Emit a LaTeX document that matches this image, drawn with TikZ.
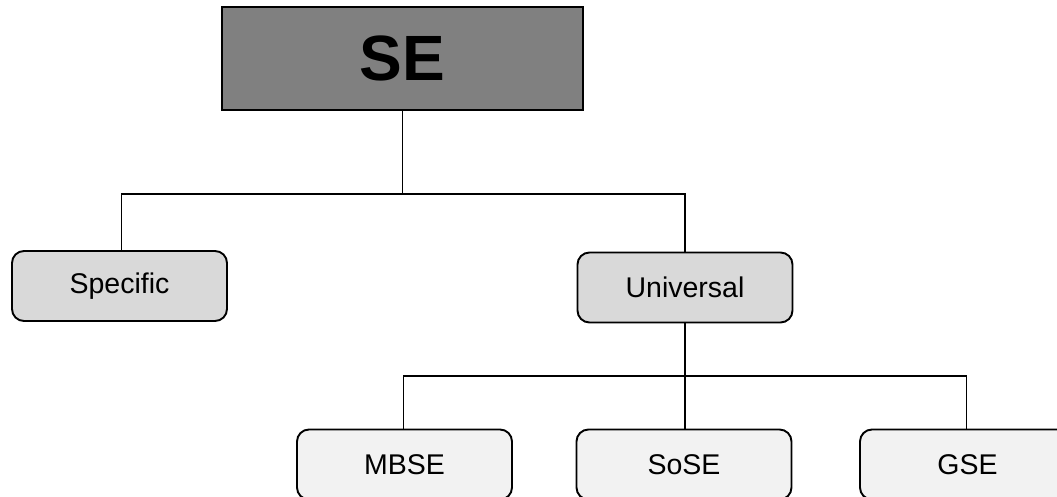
\documentclass[tikz,border=0pt]{standalone}
\usepackage{fontspec}
\setmainfont{Liberation Sans}
\begin{document}
\begin{tikzpicture}[x=1pt,y=-1pt,
  conn/.style={draw=black,line width=1.9pt},
  topbox/.style={draw=black,line width=2.2pt,fill=topgray,minimum width=361pt,minimum height=103pt,inner sep=0pt,font=\fontsize{64}{64}\selectfont\bfseries},
  midbox/.style={draw=black,line width=1.9pt,fill=midgray,rounded corners=12pt,minimum width=215pt,minimum height=70pt,inner sep=0pt,font=\fontsize{28.5}{28.5}\selectfont},
  lowbox/.style={draw=black,line width=1.9pt,fill=lowgray,rounded corners=12pt,minimum width=215pt,minimum height=70pt,inner sep=0pt,font=\fontsize{28.5}{28.5}\selectfont}]
\definecolor{topgray}{HTML}{808080}
\definecolor{midgray}{HTML}{D9D9D9}
\definecolor{lowgray}{HTML}{F2F2F2}
\useasboundingbox (0,0) rectangle (1057,497);
\clip (0,0) rectangle (1057,497);
\node[topbox] (se) at (402.5,58.5) {SE};
\node[midbox] (spec) at (119.5,286) {Specific};
\node[midbox] (univ) at (685,287.5) {Universal};
\node[lowbox] (mbse) at (404.5,464.5) {MBSE};
\node[lowbox] (sose) at (684,464.5) {SoSE};
\node[lowbox] (gse) at (967.5,464.5) {GSE};
\coordinate (j1) at (402.5,194);
\coordinate (j2) at (685,376);
\draw[conn] (se.south) -- (j1);
\draw[conn] (j1) -| (spec.north -| 121.5,0);
\draw[conn] (j1) -| (univ.north);
\draw[conn] (univ.south) -- (j2);
\draw[conn] (j2) -| (mbse.north -| 403.5,0);
\draw[conn] (j2) -- (sose.north -| j2);
\draw[conn] (j2) -| (gse.north -| 966.5,0);
\end{tikzpicture}
\end{document}
